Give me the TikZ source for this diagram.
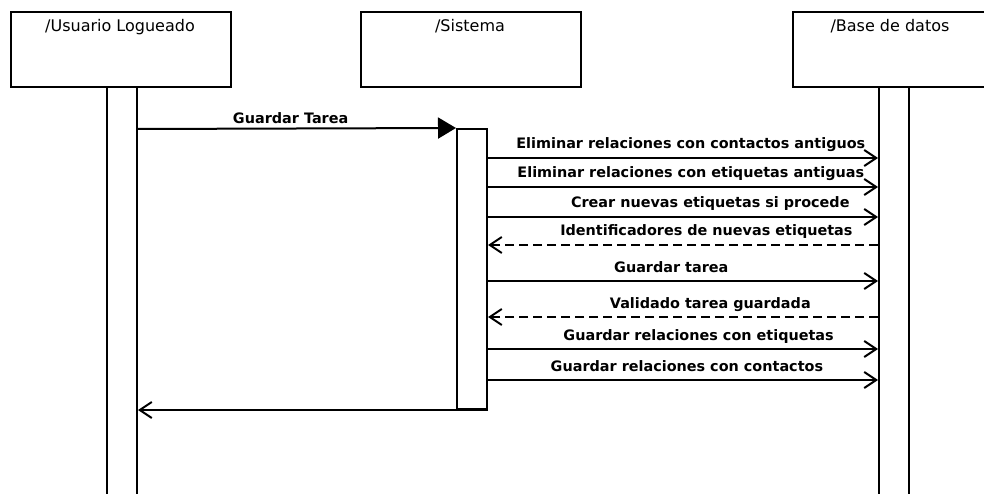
\documentclass[tikz,border=0pt]{standalone}
\usepackage{fontspec}
\usetikzlibrary{arrows.meta}
\newfontfamily\diagfont{DejaVu Sans}
\tikzstyle{actor}=[draw,line width=2pt,minimum width=220pt,minimum height=75pt,inner sep=0pt]
\tikzstyle{bar}=[draw,line width=2pt,minimum width=30pt,inner sep=0pt]
\tikzstyle{title}=[anchor=base,inner sep=0pt,font=\diagfont\fontsize{16}{19}\selectfont]
\tikzstyle{lbl}=[anchor=base,inner sep=0pt,yshift=9pt,font=\diagfont\bfseries\fontsize{14.4}{17}\selectfont]
\tikzstyle{call}=[line width=2pt,-{Triangle[length=18pt,width=21pt]}]
\tikzstyle{msg}=[line width=2pt,-{Straight Barb[length=12pt,width=16pt]}]
\tikzstyle{reply}=[msg,dash pattern=on 9pt off 5pt]
\begin{document}
\begin{tikzpicture}[x=1pt,y=-1pt]
\useasboundingbox (0, 0) rectangle (984, 494);
\clip (0, 0) rectangle (984, 494);
\node[actor] at (121, 49.5) (usr) {};
\node[actor] at (471, 49.5) (sis) {};
\node[actor] at (903, 49.5) (db) {};
\node[title] at (120, 32) (usrt) {/Usuario Logueado};
\node[title] at (470, 32) (sist) {/Sistema};
\node[title] at (890, 32) (dbt) {/Base de datos};
\node[bar, minimum height=413pt] at (122, 293.5) (usrbar) {};
\node[bar, minimum height=280pt] at (472, 269) (sisbar) {};
\node[bar, minimum height=413pt] at (894, 293.5) (dbbar) {};

\draw[call] (usrbar.east |- 0,129) -- node[lbl, pos=0.48, yshift=-4pt] (m0) {Guardar Tarea} (sisbar.north west);
\draw[msg] (sisbar.east |- 0,158) -- node[lbl, pos=0.52] (m1) {Eliminar relaciones con contactos antiguos} (dbbar.west |- 0,158);
\draw[msg] (sisbar.east |- 0,187) -- node[lbl, pos=0.52] (m2) {Eliminar relaciones con etiquetas antiguas} (dbbar.west |- 0,187);
\draw[msg] (sisbar.east |- 0,217) -- node[lbl, pos=0.57] (m3) {Crear nuevas etiquetas si procede} (dbbar.west |- 0,217);
\draw[reply] (dbbar.west |- 0,245) -- node[lbl, pos=0.44] (m4) {Identificadores de nuevas etiquetas} (sisbar.east |- 0,245);
\draw[msg] (sisbar.east |- 0,281) -- node[lbl, pos=0.47] (m5) {Guardar tarea} (dbbar.west |- 0,281);
\draw[reply] (dbbar.west |- 0,317) -- node[lbl, pos=0.43] (m6) {Validado tarea guardada} (sisbar.east |- 0,317);
\draw[msg] (sisbar.east |- 0,349) -- node[lbl, pos=0.54] (m7) {Guardar relaciones con etiquetas} (dbbar.west |- 0,349);
\draw[msg] (sisbar.east |- 0,380) -- node[lbl, pos=0.51] (m8) {Guardar relaciones con contactos} (dbbar.west |- 0,380);
\draw[msg] (sisbar.south east) -- (usrbar.east |- sisbar.south);
\end{tikzpicture}
\end{document}
